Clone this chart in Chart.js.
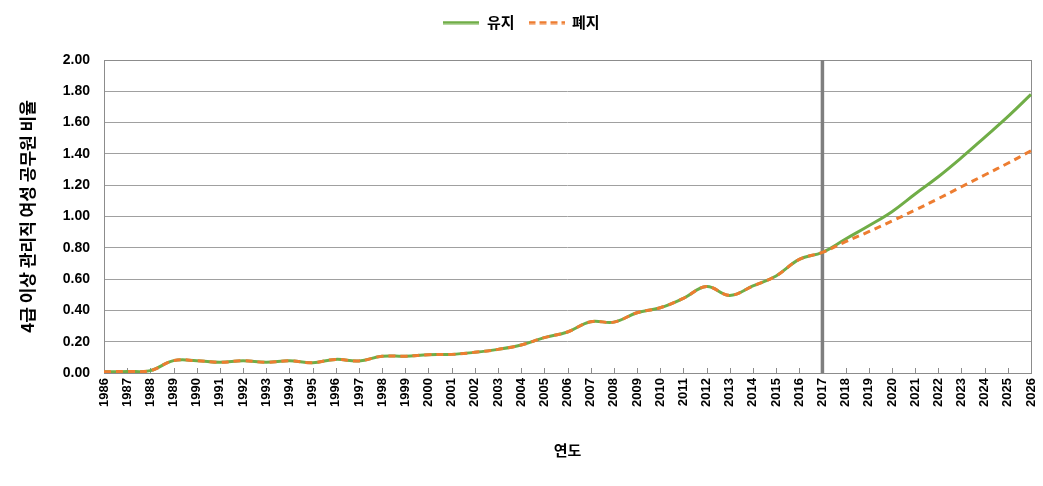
<!DOCTYPE html>
<html>
<head>
<meta charset="utf-8">
<script src="https://cdn.jsdelivr.net/npm/chart.js@4/dist/chart.umd.min.js"></script>
<style>
  body { margin: 0; background: #fff; }
</style>
</head>
<body>
<canvas id="chart" width="1043" height="486"></canvas>
<script>
// 연도별 4급 이상 관리직 여성 공무원 비율
const years = ['1986','1987','1988','1989','1990','1991','1992','1993','1994','1995',
  '1996','1997','1998','1999','2000','2001','2002','2003','2004','2005',
  '2006','2007','2008','2009','2010','2011','2012','2013','2014','2015',
  '2016','2017','2018','2019','2020','2021','2022','2023','2024','2025','2026'];

// 유지
const keepData = [0.008, 0.01, 0.015, 0.079, 0.079, 0.068, 0.078, 0.068, 0.078, 0.066,
  0.087, 0.077, 0.107, 0.107, 0.117, 0.119, 0.132, 0.151, 0.179, 0.226,
  0.262, 0.328, 0.325, 0.385, 0.417, 0.477, 0.552, 0.496, 0.556, 0.62,
  0.726, 0.771, 0.856, 0.941, 1.031, 1.144, 1.254, 1.376, 1.506, 1.638, 1.78];

// 폐지
const abolishData = [0.008, 0.01, 0.015, 0.079, 0.079, 0.068, 0.078, 0.068, 0.078, 0.066,
  0.087, 0.077, 0.107, 0.107, 0.117, 0.119, 0.132, 0.151, 0.179, 0.226,
  0.262, 0.328, 0.325, 0.385, 0.417, 0.477, 0.552, 0.496, 0.556, 0.62,
  0.726, 0.771, 0.839, 0.903, 0.971, 1.041, 1.114, 1.19, 1.265, 1.34, 1.42];

const markYear = '2017';
const korFont = '"Noto Sans CJK KR", "Liberation Sans", sans-serif';
const numFont = '"Liberation Sans", Arial, sans-serif';

// 범례용 선 모양
function lineSample(color, dash) {
  const c = document.createElement('canvas');
  c.width = 36;
  c.height = 4;
  const g = c.getContext('2d');
  g.strokeStyle = color;
  g.lineWidth = 3;
  g.setLineDash(dash);
  g.beginPath();
  g.moveTo(0, 2);
  g.lineTo(36, 2);
  g.stroke();
  return c;
}

// 범례 아래 여백
const legendGap = {
  id: 'legendGap',
  beforeInit(chart) {
    const fit = chart.legend.fit;
    chart.legend.fit = function () {
      fit.bind(chart.legend)();
      this.height += 20;
    };
  }
};

// 테두리, 안쪽 눈금, 2017 기준선
const frame = {
  id: 'frame',
  beforeDatasetsDraw(chart) {
    const ctx = chart.ctx;
    const a = chart.chartArea;
    const x = chart.scales.x;
    ctx.save();
    ctx.strokeStyle = '#8c8c8c';
    ctx.lineWidth = 1;
    ctx.strokeRect(Math.round(a.left) + 0.5, Math.round(a.top) + 0.5,
      Math.round(a.right - a.left), Math.round(a.bottom - a.top));
    ctx.beginPath();
    years.forEach((y, i) => {
      const px = Math.round(x.getPixelForValue(i)) + 0.5;
      ctx.moveTo(px, a.bottom);
      ctx.lineTo(px, a.bottom - 5);
    });
    ctx.stroke();
    const mx = x.getPixelForValue(years.indexOf(markYear));
    ctx.strokeStyle = '#7f7f7f';
    ctx.lineWidth = 3.5;
    ctx.beginPath();
    ctx.moveTo(mx, a.top);
    ctx.lineTo(mx, a.bottom);
    ctx.stroke();
    ctx.restore();
  }
};

let config = {
  type: 'line',
  data: {
    labels: years,
    datasets: [{
      label: '유지',
      data: keepData,
      borderColor: '#70AD47',
      backgroundColor: '#70AD47',
      borderWidth: 3,
      pointRadius: 0,
      pointStyle: lineSample('#70AD47', []),
      tension: 0.4,
      order: 1
    }, {
      label: '폐지',
      data: abolishData,
      borderColor: '#ED7D31',
      backgroundColor: '#ED7D31',
      borderWidth: 3,
      borderDash: [7, 5],
      pointRadius: 0,
      pointStyle: lineSample('#ED7D31', [7, 4]),
      tension: 0.4,
      order: 0
    }]
  },
  options: {
    responsive: false,
    animation: false,
    layout: { padding: { left: 12, right: 12, top: 1, bottom: 16 } },
    plugins: {
      legend: {
        position: 'top',
        labels: {
          usePointStyle: true,
          pointStyleWidth: 36,
          boxHeight: 15,
          padding: 14,
          color: '#000',
          font: { family: korFont, size: 15, weight: 'bold' },
          sort: (a, b) => a.datasetIndex - b.datasetIndex
        }
      },
      tooltip: { enabled: false }
    },
    scales: {
      x: {
        type: 'category',
        offset: false,
        grid: { display: false, drawTicks: false },
        border: { display: false },
        ticks: {
          autoSkip: false,
          minRotation: 90,
          maxRotation: 90,
          padding: 5,
          color: '#000',
          font: { family: numFont, size: 13, weight: 'bold' }
        },
        title: {
          display: true,
          text: '연도',
          color: '#000',
          padding: { top: 0, bottom: 11 },
          font: { family: korFont, size: 15, weight: 'bold' }
        },
        afterFit: (scale) => {
          scale.height = 486 - 16 - 373;
          scale.paddingLeft = 0;
          scale.paddingRight = 0;
        }
      },
      y: {
        min: 0,
        max: 2,
        grid: { color: '#a0a0a0', drawTicks: false },
        border: { display: false },
        ticks: {
          stepSize: 0.2,
          padding: 14,
          color: '#000',
          font: { family: numFont, size: 14, weight: 'bold' },
          callback: (v) => v.toFixed(2)
        },
        title: {
          display: true,
          text: '4급 이상 관리직 여성 공무원 비율',
          color: '#000',
          padding: { top: 5, bottom: 0 },
          font: { family: korFont, size: 17, weight: 'bold' }
        },
        afterFit: (scale) => { scale.width = 104 - 12; }
      }
    }
  },
  plugins: [legendGap, frame]
};

new Chart(document.getElementById('chart'), config);
</script>
</body>
</html>
